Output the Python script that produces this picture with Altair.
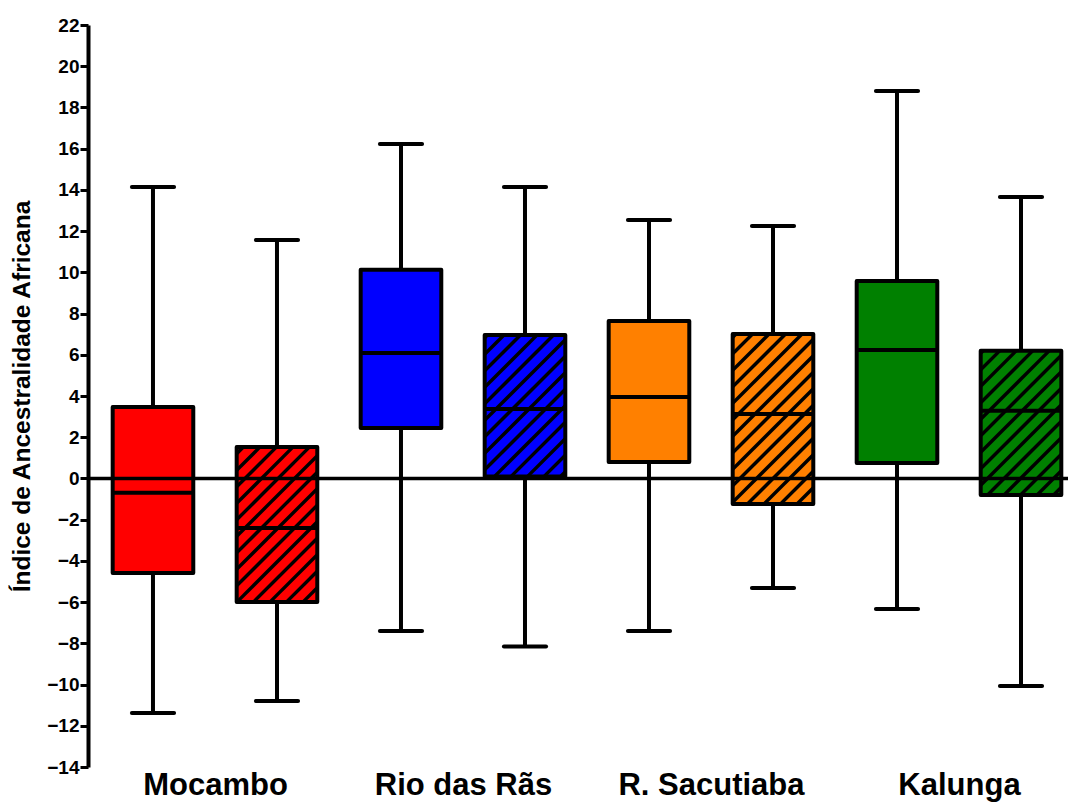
import json
import altair as alt
import pandas as pd

# ---------------- data ----------------
groups = ["Mocambo", "Rio das Rãs", "R. Sacutiaba", "Kalunga"]
group_colors = ["#FF0000", "#0000FF", "#FF8000", "#008000"]
# two boxes per group: first plain, second hatched
box_group = ["Mocambo", "Mocambo", "Rio das Rãs", "Rio das Rãs",
             "R. Sacutiaba", "R. Sacutiaba", "Kalunga", "Kalunga"]
box_hatched = [False, True, False, True, False, True, False, True]
whisker_low = [-11.38, -10.80, -7.40, -8.15, -7.40, -5.31, -6.33, -10.07]
q1 = [-4.59, -5.99, 2.45, 0.10, 0.80, -1.24, 0.75, -0.80]
median = [-0.70, -2.40, 6.09, 3.37, 3.95, 3.13, 6.23, 3.28]
q3 = [3.47, 1.53, 10.12, 6.96, 7.64, 7.01, 9.58, 6.19]
whisker_high = [14.14, 11.57, 16.23, 14.14, 12.54, 12.25, 18.80, 13.66]
y_ticks = list(range(-14, 23, 2))

# ---------------- layout ----------------
W, H = 980, 742
X_DOM = [-0.524, 7.379]
Y_DOM = [-14, 22]
HALF_BOX = 0.325
HALF_CAP = 0.17
FONT = "Liberation Sans"

pos = list(range(len(box_group)))
df = pd.DataFrame({
    "pos": pos,
    "left": [p - HALF_BOX for p in pos],
    "right": [p + HALF_BOX for p in pos],
    "capl": [p - HALF_CAP for p in pos],
    "capr": [p + HALF_CAP for p in pos],
    "group": box_group,
    "low": whisker_low, "q1": q1, "median": median, "q3": q3, "high": whisker_high,
})

# hatch pattern segments ("/" lines, 45 degrees on screen) clipped to each hatched box
ppx = W / (X_DOM[1] - X_DOM[0])
ppy = H / (Y_DOM[1] - Y_DOM[0])
STEP = 16.5  # horizontal period of the hatch in pixels


def to_px_x(v):
    return (v - X_DOM[0]) * ppx


def to_px_y(v):
    return (Y_DOM[1] - v) * ppy


def from_px_x(p):
    return X_DOM[0] + p / ppx


def from_px_y(p):
    return Y_DOM[1] - p / ppy


hatch_rows = []
for i in pos:
    if not box_hatched[i]:
        continue
    xl, xr = to_px_x(i - HALF_BOX), to_px_x(i + HALF_BOX)
    yt, yb = to_px_y(q3[i]), to_px_y(q1[i])
    k = int((xl + yt) // STEP)
    while k * STEP <= xr + yb + STEP:
        c = k * STEP
        xa = max(xl, c - yb)
        xb = min(xr, c - yt)
        if xb > xa:
            hatch_rows.append({
                "x": from_px_x(xa), "y": from_px_y(c - xa),
                "x2": from_px_x(xb), "y2": from_px_y(c - xb),
            })
        k += 1
hatch_df = pd.DataFrame(hatch_rows)

xscale = alt.Scale(domain=X_DOM, nice=False, zero=False)
yscale = alt.Scale(domain=Y_DOM, nice=False, zero=False)
label_expr = "%s[round((datum.value - 0.5) / 2)]" % json.dumps(groups, ensure_ascii=False)

x_axis = alt.Axis(values=[0.5, 2.5, 4.5, 6.5], labelExpr=label_expr)
y_axis = alt.Axis(values=y_ticks)

base = alt.Chart(df)
color = alt.Color("group:N", scale=alt.Scale(domain=groups, range=group_colors), legend=None)

fill = base.mark_rect().encode(
    x=alt.X("left:Q", scale=xscale, axis=x_axis, title=""),
    x2="right:Q",
    y=alt.Y("q1:Q", scale=yscale, axis=y_axis, title="Índice de Ancestralidade Africana"),
    y2="q3:Q",
    color=color,
)

hatch = alt.Chart(hatch_df).mark_rule(color="black", strokeWidth=3.4).encode(
    x=alt.X("x:Q", scale=xscale, axis=x_axis, title=""), x2="x2:Q",
    y=alt.Y("y:Q", scale=yscale, axis=y_axis, title="Índice de Ancestralidade Africana"), y2="y2:Q",
)

outline = base.mark_rect(fillOpacity=0, stroke="black", strokeWidth=4,
                         strokeJoin="round").encode(
    x=alt.X("left:Q", scale=xscale, axis=x_axis, title=""), x2="right:Q",
    y=alt.Y("q1:Q", scale=yscale, axis=y_axis, title="Índice de Ancestralidade Africana"), y2="q3:Q",
)

med = base.mark_rule(color="black", strokeWidth=4).encode(
    x=alt.X("left:Q", scale=xscale, axis=x_axis, title=""), x2="right:Q",
    y=alt.Y("median:Q", scale=yscale, axis=y_axis, title="Índice de Ancestralidade Africana"),
)

upper = base.mark_rule(color="black", strokeWidth=4).encode(
    x=alt.X("pos:Q", scale=xscale, axis=x_axis, title=""),
    y=alt.Y("q3:Q", scale=yscale, axis=y_axis, title="Índice de Ancestralidade Africana"), y2="high:Q",
)
lower = base.mark_rule(color="black", strokeWidth=4).encode(
    x=alt.X("pos:Q", scale=xscale, axis=x_axis, title=""),
    y=alt.Y("low:Q", scale=yscale, axis=y_axis, title="Índice de Ancestralidade Africana"), y2="q1:Q",
)
cap_hi = base.mark_rule(color="black", strokeWidth=4, strokeCap="round").encode(
    x=alt.X("capl:Q", scale=xscale, axis=x_axis, title=""), x2="capr:Q",
    y=alt.Y("high:Q", scale=yscale, axis=y_axis, title="Índice de Ancestralidade Africana"),
)
cap_lo = base.mark_rule(color="black", strokeWidth=4, strokeCap="round").encode(
    x=alt.X("capl:Q", scale=xscale, axis=x_axis, title=""), x2="capr:Q",
    y=alt.Y("low:Q", scale=yscale, axis=y_axis, title="Índice de Ancestralidade Africana"),
)

zero = alt.Chart(pd.DataFrame({"z": [0]})).mark_rule(color="black", strokeWidth=3.5).encode(
    y=alt.Y("z:Q", scale=yscale, axis=y_axis, title="Índice de Ancestralidade Africana"),
)

chart = alt.layer(fill, hatch, outline, lower, upper, cap_hi, cap_lo, med, zero).properties(
    width=W, height=H,
    autosize=alt.AutoSizeParams(type="none"),
    padding={"left": 88, "top": 25, "right": 0, "bottom": 36},
    background="white",
).configure_view(
    stroke=None
).configure_axis(
    grid=False, labelFont=FONT, labelFontWeight="bold", labelColor="black",
    titleFont=FONT, titleFontWeight="bold", titleColor="black", labelLimit=0,
).configure_axisX(
    domain=False, ticks=False, labelFontSize=31, labelPadding=3, labelBaseline="top",
).configure_axisY(
    domainWidth=4, domainColor="black", tickWidth=3, tickSize=8, tickColor="black",
    labelFontSize=19, labelPadding=1, titleFontSize=24.5, titlePadding=12,
)

chart.save("out.html", embed_options={"renderer": "svg", "actions": False})
